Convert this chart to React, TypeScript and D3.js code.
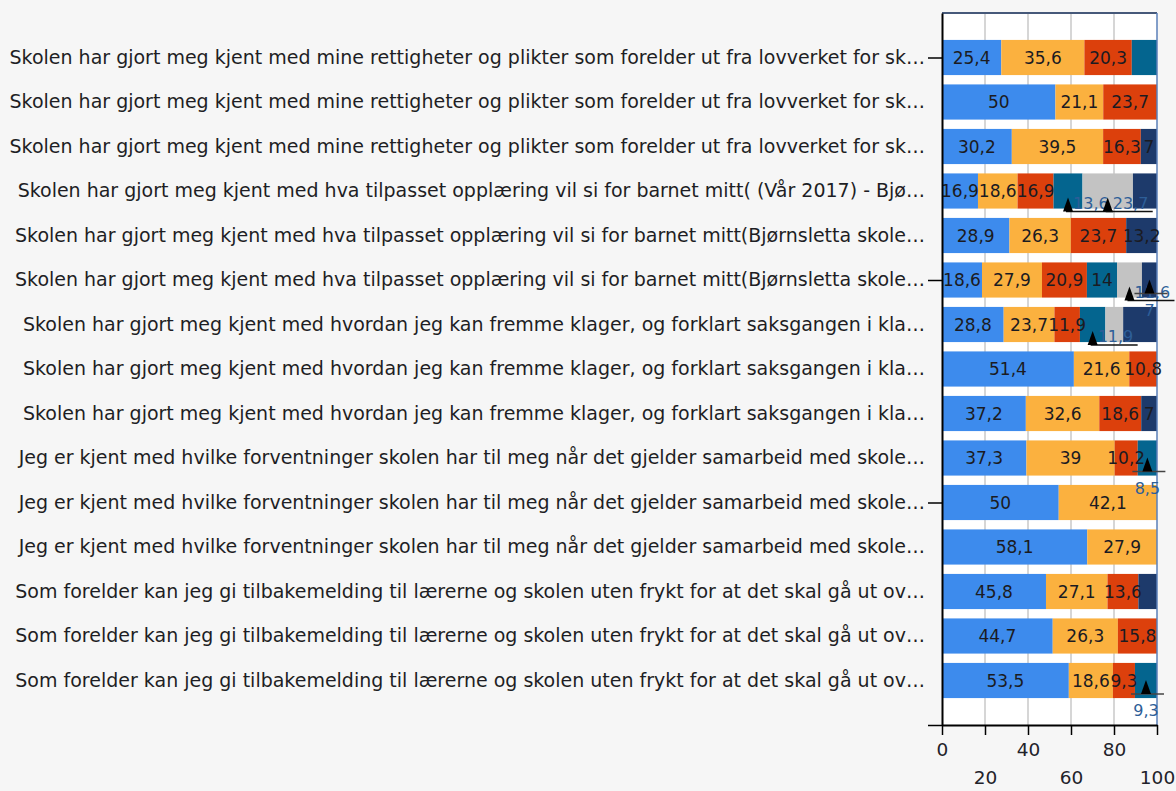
import React, { useEffect, useRef } from 'react';
import * as d3 from 'd3';

const WIDTH = 1176;
const HEIGHT = 791;
const PLOT = { left: 942, right: 1157, top: 13, bottom: 725 };

const q1 = 'Skolen har gjort meg kjent med mine rettigheter og plikter som forelder ut fra lovverket for sk…';
const q2 = 'Skolen har gjort meg kjent med hva tilpasset opplæring vil si for barnet mitt( (Vår 2017) - Bjø…';
const q3 = 'Skolen har gjort meg kjent med hva tilpasset opplæring vil si for barnet mitt(Bjørnsletta skole…';
const q4 = 'Skolen har gjort meg kjent med hvordan jeg kan fremme klager, og forklart saksgangen i kla…';
const q5 = 'Jeg er kjent med hvilke forventninger skolen har til meg når det gjelder samarbeid med skole…';
const q6 = 'Som forelder kan jeg gi tilbakemelding til lærerne og skolen uten frykt for at det skal gå ut ov…';

const categories = [q1, q1, q1, q2, q3, q3, q4, q4, q4, q5, q5, q5, q6, q6, q6];

const seriesKeys = ['a', 'b', 'c', 'd', 'e', 'f'];
const colors = ['#3d8bed', '#fbb13f', '#dc400c', '#04658f', '#c3c3c3', '#1d3a6b'];

const blue = [25.4, 50, 30.2, 16.9, 28.9, 18.6, 28.8, 51.4, 37.2, 37.3, 50, 58.1, 45.8, 44.7, 53.5];
const orange = [35.6, 21.1, 39.5, 18.6, 26.3, 27.9, 23.7, 21.6, 32.6, 39, 42.1, 27.9, 27.1, 26.3, 18.6];
const red = [20.3, 23.7, 16.3, 16.9, 23.7, 20.9, 11.9, 10.8, 18.6, 10.2, 0, 0, 13.6, 15.8, 9.3];
const teal = [10.8, 0, 0, 13.6, 0, 14, 11.9, 0, 0, 8.5, 0, 0, 0, 0, 9.3];
const gray = [0, 0, 0, 23.7, 0, 11.6, 8.3, 0, 0, 0, 0, 0, 0, 0, 0];
const navy = [0, 0, 7, 11.3, 13.2, 7, 15.8, 0, 7, 0, 0, 0, 8.2, 0, 0];
const seriesValues = [blue, orange, red, teal, gray, navy];

// [row, series] segments drawn without a value label
const unlabeled = [[0, 3], [3, 5], [6, 4], [6, 5], [12, 5]];
// [row, series, placement] labels drawn as callouts under the bar
const callouts: [number, number, string][] = [
  [3, 3, 'right'], [3, 4, 'right'], [5, 4, 'right'], [5, 5, 'below'],
  [6, 3, 'right'], [9, 3, 'below'], [14, 3, 'below'],
];

const xTicks = [0, 20, 40, 60, 80, 100];
const rowTicks = [0, 5, 10, 15];

const fmt = (v: number) => String(v).replace('.', ',');

export default function App() {
  const ref = useRef<SVGSVGElement>(null);

  useEffect(() => {
    const svg = d3.select(ref.current);
    svg.selectAll('*').remove();

    const table = categories.map((c, i) => {
      const row: any = { i };
      seriesKeys.forEach((k, j) => (row[k] = seriesValues[j][i]));
      return row;
    });
    const stacked = d3.stack().keys(seriesKeys).offset(d3.stackOffsetExpand)(table);

    const x = d3.scaleLinear().domain([0, 1]).range([PLOT.left, PLOT.right]);
    const xAxisScale = d3.scaleLinear().domain([0, 100]).range([PLOT.left, PLOT.right]);
    const yIdx = d3.scaleLinear().domain([-1, 15]).range([PLOT.top, PLOT.bottom]);
    const y = d3
      .scaleBand<number>()
      .domain(d3.range(categories.length))
      .range([yIdx(-0.5), yIdx(14.5)])
      .paddingInner(0.21)
      .paddingOuter(0.105);

    svg.append('rect').attr('width', WIDTH).attr('height', HEIGHT).attr('fill', '#f6f6f6');
    svg
      .append('rect')
      .attr('x', PLOT.left)
      .attr('y', PLOT.top)
      .attr('width', PLOT.right - PLOT.left)
      .attr('height', PLOT.bottom - PLOT.top)
      .attr('fill', '#ffffff');

    // grid
    svg
      .append('g')
      .selectAll('line')
      .data([20, 40, 60, 80])
      .join('line')
      .attr('x1', (d) => xAxisScale(d))
      .attr('x2', (d) => xAxisScale(d))
      .attr('y1', PLOT.top)
      .attr('y2', PLOT.bottom)
      .attr('stroke', '#c9c9c9')
      .attr('stroke-width', 1.5);

    // bars
    const bars = svg.append('g');
    stacked.forEach((layer, si) => {
      bars
        .append('g')
        .attr('fill', colors[si])
        .selectAll('rect')
        .data(layer.filter((d) => d[1] - d[0] > 0))
        .join('rect')
        .attr('x', (d) => x(d[0]))
        .attr('width', (d) => x(d[1]) - x(d[0]))
        .attr('y', (d) => y(d.data.i)!)
        .attr('height', y.bandwidth());
    });

    // frame
    svg
      .append('line')
      .attr('x1', PLOT.left)
      .attr('x2', PLOT.right)
      .attr('y1', PLOT.top)
      .attr('y2', PLOT.top)
      .attr('stroke', '#46597a')
      .attr('stroke-width', 2);
    svg
      .append('line')
      .attr('x1', PLOT.right)
      .attr('x2', PLOT.right)
      .attr('y1', PLOT.top)
      .attr('y2', PLOT.bottom)
      .attr('stroke', '#5a7fb8')
      .attr('stroke-width', 1.5);

    // value labels
    const isHidden = (r: number, s: number) =>
      unlabeled.some((u) => u[0] === r && u[1] === s) || callouts.some((c) => c[0] === r && c[1] === s);
    const labels = svg
      .append('g')
      .attr('font-family', '"DejaVu Sans", sans-serif')
      .attr('font-size', 17)
      .attr('fill', '#1b1b22')
      .attr('text-anchor', 'middle');
    stacked.forEach((layer, si) => {
      layer.forEach((d, r) => {
        const v = seriesValues[si][r];
        if (!v || isHidden(r, si)) return;
        labels
          .append('text')
          .attr('x', (x(d[0]) + x(d[1])) / 2)
          .attr('y', y(r)! + y.bandwidth() / 2 + 6)
          .text(fmt(v));
      });
    });

    // callout labels
    const co = svg.append('g').attr('font-family', '"DejaVu Sans", sans-serif').attr('font-size', 16);
    callouts.forEach(([r, si, place]) => {
      const d = stacked[si][r];
      const cx = (x(d[0]) + x(d[1])) / 2;
      const bottom = y(r)! + y.bandwidth();
      const lineY = place === 'right' ? bottom + 3 : bottom - 4;
      co.append('line')
        .attr('x1', place === 'right' ? cx - 2 : cx - 15)
        .attr('x2', place === 'right' ? cx + 45 : cx + 18)
        .attr('y1', lineY)
        .attr('y2', lineY)
        .attr('stroke', place === 'right' ? '#111' : '#444')
        .attr('stroke-width', 1.5);
      co.append('path')
        .attr('d', `M${cx},${lineY - 14}L${cx + 5},${lineY}L${cx - 5},${lineY}Z`)
        .attr('fill', '#000');
      co.append('text')
        .attr('x', place === 'right' ? cx + 5 : cx)
        .attr('y', place === 'right' ? bottom : bottom + 18)
        .attr('text-anchor', place === 'right' ? 'start' : 'middle')
        .attr('fill', '#2d5e98')
        .text(fmt(seriesValues[si][r]));
    });

    // category axis
    const yAxis = svg
      .append('g')
      .attr('transform', `translate(${PLOT.left},0)`)
      .call(
        d3
          .axisLeft(yIdx)
          .tickValues(rowTicks)
          .tickSize(14)
          .tickSizeOuter(0)
          .tickFormat(() => '')
      );
    yAxis.select('.domain').attr('stroke', '#000').attr('stroke-width', 2);
    yAxis.selectAll('.tick line').attr('stroke', '#000').attr('stroke-width', 1.5);

    svg
      .append('g')
      .attr('font-family', '"DejaVu Sans", sans-serif')
      .attr('font-size', 19)
      .attr('fill', '#1e1e24')
      .attr('text-anchor', 'end')
      .selectAll('text')
      .data(categories)
      .join('text')
      .attr('x', 925)
      .attr('y', (d, i) => y(i)! + y.bandwidth() / 2 + 6)
      .text((d) => d);

    // value axis
    const xAxis = svg
      .append('g')
      .attr('transform', `translate(0,${PLOT.bottom})`)
      .call(d3.axisBottom(xAxisScale).tickValues(xTicks).tickSize(10).tickSizeOuter(0));
    xAxis.select('.domain').attr('stroke', '#000').attr('stroke-width', 2);
    xAxis.selectAll('.tick line').attr('stroke', '#000').attr('stroke-width', 1.5);
    xAxis
      .selectAll('.tick text')
      .attr('font-family', '"DejaVu Sans", sans-serif')
      .attr('font-size', 18.5)
      .attr('fill', '#22222a')
      .attr('y', (d, i) => (i % 2 ? 46 : 18));
  }, []);

  return (
    <svg
      ref={ref}
      width={WIDTH}
      height={HEIGHT}
      style={{ position: 'absolute', left: 0, top: 0, display: 'block' }}
    />
  );
}
